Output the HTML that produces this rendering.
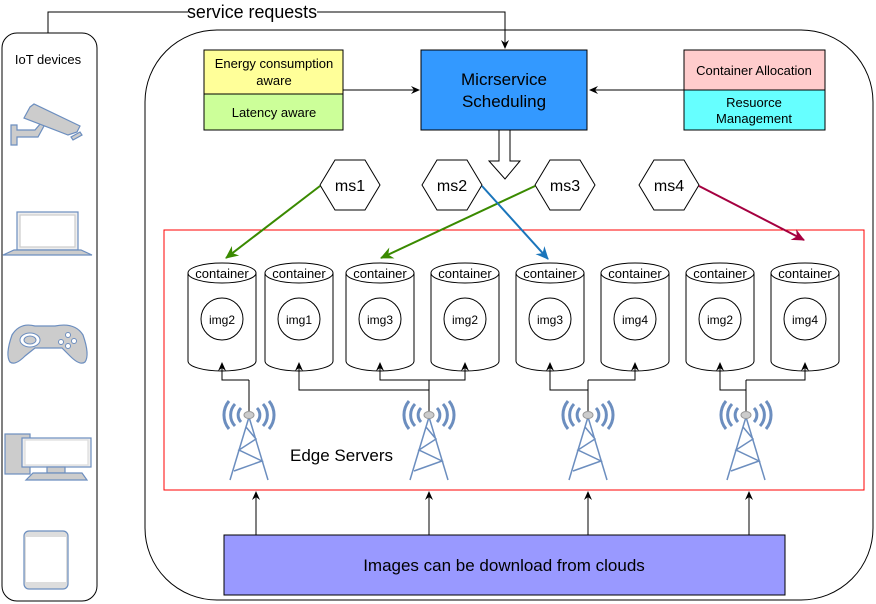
<!DOCTYPE html>
<html><head><meta charset="utf-8"><style>
html,body{margin:0;padding:0;background:#fff;}
svg{display:block;font-family:"Liberation Sans",Arial,sans-serif;}
svg text{font-family:"Liberation Sans",Arial,sans-serif;}
</style></head><body>
<svg width="876" height="604" viewBox="0 0 876 604" xmlns="http://www.w3.org/2000/svg" font-family="Liberation Sans, Arial, sans-serif">
<defs>
<marker id="ab" markerWidth="10" markerHeight="10" refX="8" refY="5" orient="auto" markerUnits="userSpaceOnUse"><path d="M0,1 L9,5 L0,9 L3,5z" fill="#000"/></marker>
<marker id="ag" markerWidth="14" markerHeight="14" refX="12" refY="7" orient="auto" markerUnits="userSpaceOnUse"><path d="M0,1 L13,7 L0,13 L4,7z" fill="#3a8a00"/></marker>
<marker id="abl" markerWidth="14" markerHeight="14" refX="12" refY="7" orient="auto" markerUnits="userSpaceOnUse"><path d="M0,1 L13,7 L0,13 L4,7z" fill="#1a75bb"/></marker>
<marker id="ar" markerWidth="14" markerHeight="14" refX="12" refY="7" orient="auto" markerUnits="userSpaceOnUse"><path d="M0,1 L13,7 L0,13 L4,7z" fill="#a50040"/></marker>
<g id="cyl">
<path d="M-34,0 L-34,88 A34,10 0 0 0 34,88 L34,0" fill="#fff" stroke="#000"/>
<ellipse cx="0" cy="0" rx="34" ry="10" fill="#fff" stroke="#000"/>
<text x="0" y="5" text-anchor="middle" font-size="13">container</text>
<circle cx="0" cy="46" r="21" fill="#fff" stroke="#000"/>
</g>
<g id="tw" stroke="#6c8ebf" fill="none">
<path d="M0,2 L-19,65 M0,2 L19,65 M-3,12 L7,24 L-10,35 L13,46 L-15,56" stroke-width="1.5"/>
<path d="M-8,-7 A10,10 0 0 0 -8,7 M8,-7 A10,10 0 0 1 8,7 M-14,-11 A16,16 0 0 0 -14,11 M14,-11 A16,16 0 0 1 14,11 M-20,-14 A22,22 0 0 0 -20,14 M20,-14 A22,22 0 0 1 20,14" stroke-width="3"/>
<ellipse cx="0" cy="0" rx="5" ry="3.5" fill="#ccc" stroke="#999"/>
</g>
</defs>

<rect x="2" y="33" width="95" height="568" rx="15" fill="#fff" stroke="#000"/>
<text x="48" y="64" text-anchor="middle" font-size="13">IoT devices</text>
<g fill="#ccc" stroke="#6c8ebf" stroke-width="1.2">
<path d="M11,125 L17,125 L17,130 L35,130 L41,123 L44,126 L38,137 L17,137 L17,145 L11,145z"/>
<path d="M30,107 L34,104 L80,126 L77,132 L68,135 L24,118z"/>
<path d="M71,137 L80,132 L82,135 L73,140z"/>
</g>
<g stroke="#6c8ebf" stroke-width="1.2">
<rect x="17" y="212" width="61" height="38" fill="#eee"/>
<rect x="20" y="215" width="55" height="32" fill="#fff" stroke="#ccc"/>
<path d="M14,250 L81,250 L92,255 L3,255z" fill="#ccc"/>
</g>
<path d="M12,335 Q20,322 35,326 L55,326 Q75,322 83,335 Q90,355 85,362 Q80,366 70,356 L62,348 L35,348 L25,356 Q15,366 10,362 Q5,355 12,335z" fill="#ccc" stroke="#6c8ebf" stroke-width="1.2"/>
<ellipse cx="30" cy="340" rx="10" ry="7" fill="#fff" stroke="#6c8ebf"/><ellipse cx="30" cy="340" rx="6" ry="4" fill="#ccc" stroke="#6c8ebf"/>
<circle cx="61" cy="342" r="2.5" fill="#fff" stroke="#6c8ebf"/><circle cx="68" cy="335" r="2.5" fill="#fff" stroke="#6c8ebf"/><circle cx="74" cy="341" r="2.5" fill="#fff" stroke="#6c8ebf"/><circle cx="68" cy="346" r="2.5" fill="#fff" stroke="#6c8ebf"/>
<g stroke="#6c8ebf" stroke-width="1.2">
<rect x="5" y="434" width="25" height="40" fill="#ccc"/>
<rect x="22" y="438" width="69" height="29" fill="#eee"/>
<rect x="25" y="440" width="63" height="25" fill="#fff" stroke="#ddd"/>
<rect x="47" y="467" width="18" height="6" fill="#ccc"/>
<path d="M33,473 L82,473 L87,480 L26,480z" fill="#ccc"/>
</g>
<rect x="24" y="531" width="44" height="58" rx="5" fill="#ddd" stroke="#6c8ebf" stroke-width="1.2"/>
<rect x="26" y="537" width="40" height="45" fill="#fff"/>

<path d="M48,33 L48,12 L505,12 L505,48" fill="none" stroke="#000" marker-end="url(#ab)"/>
<rect x="188" y="2" width="129" height="20" fill="#fff"/>
<text x="252" y="18" text-anchor="middle" font-size="18" font-family="Liberation Sans, Arial, sans-serif" textLength="130" lengthAdjust="spacingAndGlyphs">service requests</text>

<rect x="145" y="30" width="728" height="570" rx="72" fill="none" stroke="#000"/>

<rect x="204" y="50" width="139" height="44" fill="#ffff99" stroke="#000"/>
<text x="274" y="68" text-anchor="middle" font-size="13">Energy consumption</text>
<text x="274" y="85" text-anchor="middle" font-size="13">aware</text>
<rect x="204" y="94" width="139" height="36" fill="#ccff99" stroke="#000"/>
<text x="274" y="117" text-anchor="middle" font-size="13">Latency aware</text>
<path d="M343,90 L419,90" stroke="#000" marker-end="url(#ab)"/>

<rect x="421" y="50" width="166" height="80" fill="#3399ff" stroke="#000"/>
<text x="504" y="85" text-anchor="middle" font-size="17">Micrservice</text>
<text x="504" y="107" text-anchor="middle" font-size="17">Scheduling</text>

<rect x="684" y="50" width="141" height="40" fill="#ffcccc" stroke="#000"/>
<text x="754" y="75" text-anchor="middle" font-size="13">Container Allocation</text>
<rect x="684" y="90" width="141" height="40" fill="#66ffff" stroke="#000"/>
<text x="754" y="107" text-anchor="middle" font-size="13">Resuorce</text>
<text x="754" y="123" text-anchor="middle" font-size="13">Management</text>
<path d="M684,90 L590,90" stroke="#000" marker-end="url(#ab)"/>

<path d="M499,130 L510,130 L510,161 L520,161 L505,179 L489,161 L499,161z" fill="#fff" stroke="#000"/>

<g fill="#fff" stroke="#000" font-size="16" text-anchor="middle">
<path d="M320,185 L335,160 L365,160 L380,185 L365,210 L335,210z"/><text x="350" y="191" stroke="none" fill="#000">ms1</text>
<path d="M422,185 L437,160 L467,160 L482,185 L467,210 L437,210z"/><text x="452" y="191" stroke="none" fill="#000">ms2</text>
<path d="M535,185 L550,160 L580,160 L595,185 L580,210 L550,210z"/><text x="565" y="191" stroke="none" fill="#000">ms3</text>
<path d="M639,185 L654,160 L684,160 L699,185 L684,210 L654,210z"/><text x="669" y="191" stroke="none" fill="#000">ms4</text>
</g>

<rect x="164" y="230" width="700" height="260" fill="none" stroke="#ff0000"/>

<use href="#cyl" x="222" y="273"/>
<use href="#cyl" x="299" y="273"/>
<use href="#cyl" x="380" y="273"/>
<use href="#cyl" x="465" y="273"/>
<use href="#cyl" x="550" y="273"/>
<use href="#cyl" x="635" y="273"/>
<use href="#cyl" x="720" y="273"/>
<use href="#cyl" x="805" y="273"/>
<g font-size="12" text-anchor="middle">
<text x="222" y="324">img2</text><text x="299" y="324">img1</text><text x="380" y="324">img3</text><text x="465" y="324">img2</text>
<text x="550" y="324">img3</text><text x="635" y="324">img4</text><text x="720" y="324">img2</text><text x="805" y="324">img4</text>
</g>

<path d="M320,186 L226,258" stroke="#3a8a00" stroke-width="2" fill="none" marker-end="url(#ag)"/>
<path d="M535,186 L381,258" stroke="#3a8a00" stroke-width="2" fill="none" marker-end="url(#ag)"/>
<path d="M482,186 L548,259" stroke="#1a75bb" stroke-width="2" fill="none" marker-end="url(#abl)"/>
<path d="M699,186 L804,240" stroke="#a50040" stroke-width="2" fill="none" marker-end="url(#ar)"/>

<g stroke="#000" fill="none">
<path d="M249,412 L249,380"/>
<path d="M429,412 L429,380"/>
<path d="M588,412 L588,380"/>
<path d="M746,412 L746,380"/>
</g>
<g stroke="#000" fill="none" marker-end="url(#ab)">
<path d="M249,380 L222,380 L222,363"/>
<path d="M429,390 L299,390 L299,363"/>
<path d="M429,380 L380,380 L380,363"/>
<path d="M429,380 L465,380 L465,363"/>
<path d="M588,390 L550,390 L550,363"/>
<path d="M588,380 L635,380 L635,363"/>
<path d="M746,390 L720,390 L720,363"/>
<path d="M746,380 L805,380 L805,363"/>
</g>

<use href="#tw" x="249" y="415"/>
<use href="#tw" x="429" y="415"/>
<use href="#tw" x="588" y="415"/>
<use href="#tw" x="746" y="415"/>
<text x="290" y="461" font-size="17">Edge Servers</text>

<rect x="224" y="535" width="561" height="60" fill="#9999ff" stroke="#000"/>
<text x="504" y="571" text-anchor="middle" font-size="17">Images can be download from clouds</text>
<g stroke="#000" marker-end="url(#ab)">
<path d="M256,535 L256,492"/><path d="M429,535 L429,492"/><path d="M588,535 L588,492"/><path d="M749,535 L749,492"/>
</g>
</svg>
</body></html>
